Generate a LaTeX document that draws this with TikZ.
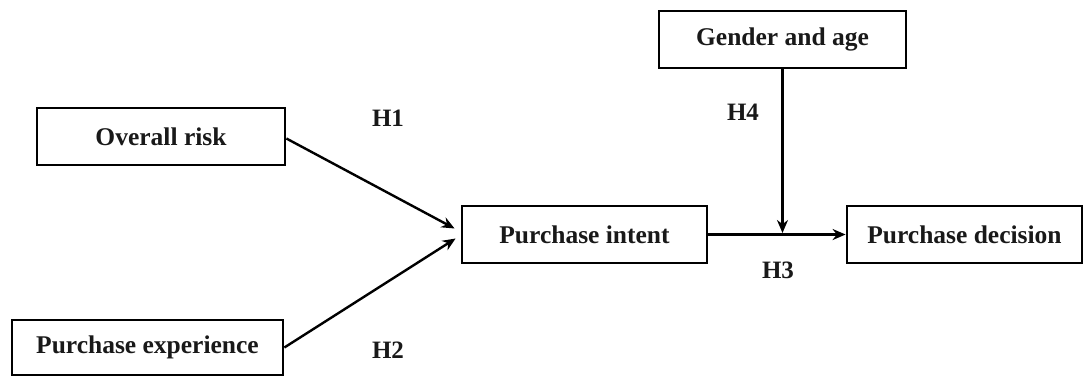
\documentclass[tikz,border=0pt]{standalone}
\usepackage{fontspec}
\setmainfont{Liberation Serif}
\usetikzlibrary{arrows.meta,calc}
\begin{document}
\begin{tikzpicture}[x=1pt,y=-1pt,
  box/.style={draw=black,line width=2.8pt,rectangle,inner sep=0pt,
    font=\fontsize{25.5}{29}\selectfont\bfseries,text=black!90},
  hlabel/.style={font=\fontsize{25}{29}\selectfont\bfseries,text=black!90,inner sep=0pt},
  conn/.style={draw=black,line width=2.4pt,-{Stealth[length=13pt,width=11pt]}}]
\useasboundingbox[fill=white] (0,0) rectangle (1084,377);
\node[box,minimum width=248pt,minimum height=57pt] (risk) at (161,136.5) {Overall risk};
\node[box,minimum width=271pt,minimum height=55pt] (exp) at (147.5,347.5) {Purchase experience};
\node[box,minimum width=245pt,minimum height=57pt] (intent) at (584.5,234.5) {Purchase intent};
\node[box,minimum width=235pt,minimum height=57pt] (dec) at (964.5,234.5) {Purchase decision};
\node[box,minimum width=247pt,minimum height=57pt] (gen) at (782.5,39.5) {Gender and age};
\node[hlabel] (h1) at (388,118) {H1};
\node[hlabel] (h2) at (388,350) {H2};
\node[hlabel] (h4) at (743,112) {H4};
\node[hlabel] (h3) at (778,270) {H3};
\coordinate (t1) at ([xshift=-6pt,yshift=6pt]intent.west);
\coordinate (t2) at ([xshift=-5pt,yshift=-4pt]intent.west);
\draw[conn] ([yshift=-2pt]risk.east) -- (t1);
\draw[conn] (exp.east) -- (t2);
\draw[conn] (intent.east) -- (dec.west);
\coordinate (j) at ($(gen.south |- intent.east)+(0,-1.5)$);
\draw[conn] (gen.south) -- (j);
\end{tikzpicture}
\end{document}
